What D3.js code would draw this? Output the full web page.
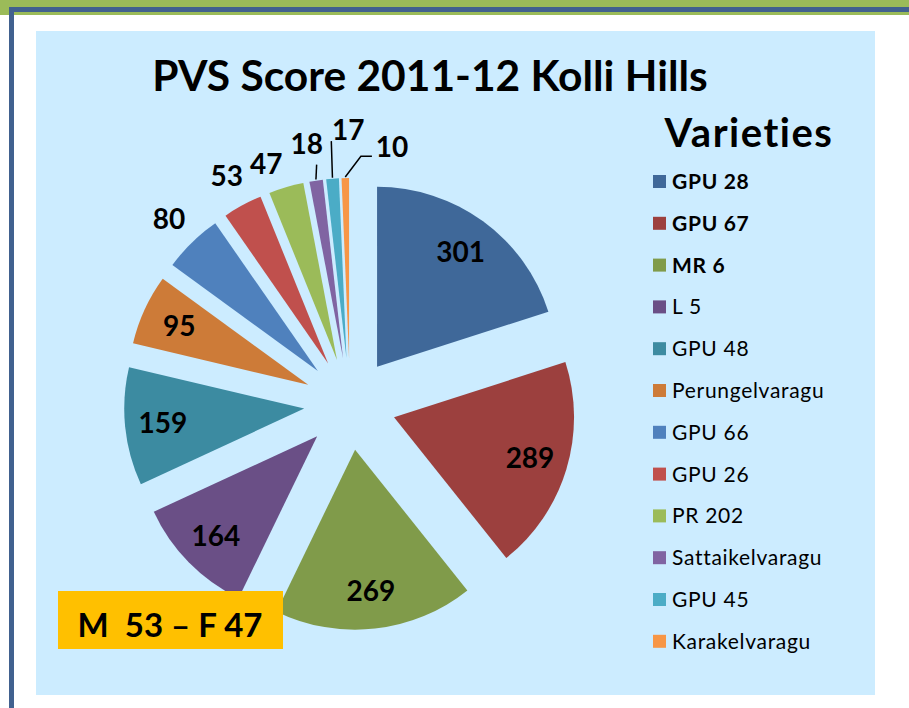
<!DOCTYPE html>
<html>
<head>
<meta charset="utf-8">
<script src="https://cdn.jsdelivr.net/npm/d3@7/dist/d3.min.js"></script>
<style>
  html, body { margin: 0; padding: 0; background: #ffffff; }
  svg { display: block; font-family: Lato, "Open Sans", "DejaVu Sans", sans-serif;
        font-variant-ligatures: none; font-feature-settings: "liga" 0, "clig" 0; }
</style>
</head>
<body>
<svg id="chart" width="909" height="708"></svg>
<script>
// ---- data ----
const categories = ["GPU 28", "GPU 67", "MR 6", "L 5", "GPU 48", "Perungelvaragu",
                    "GPU 66", "GPU 26", "PR 202", "Sattaikelvaragu", "GPU 45", "Karakelvaragu"];
const scores = [301, 289, 269, 164, 159, 95, 80, 53, 47, 18, 17, 10];
const colors = ["#3F6899", "#9C403E", "#809B4A", "#6A4F86", "#3C8BA1", "#CD7B38",
                "#4F81BD", "#C0504D", "#9BBB59", "#8064A2", "#4BACC6", "#F79646"];
const boldLegend = ["GPU 28", "GPU 67", "MR 6"];
const titleText = "PVS Score 2011-12 Kolli Hills";
const legendTitle = "Varieties";
const noteText = "M  53 \u2013 F 47";

// ---- layout ----
const svg = d3.select("#chart");
const W = 909, H = 708;

// frame
svg.append("rect").attr("x", 0).attr("y", 0).attr("width", W).attr("height", H).attr("fill", "#ffffff");
svg.append("rect").attr("x", 0).attr("y", 0).attr("width", W).attr("height", 15).attr("fill", "#9BBB59");
svg.append("rect").attr("x", 9).attr("y", 7).attr("width", W - 9).attr("height", 5).attr("fill", "#41618F");
svg.append("rect").attr("x", 9).attr("y", 7).attr("width", 5).attr("height", H - 7).attr("fill", "#41618F");

// chart area
svg.append("rect").attr("x", 36).attr("y", 31).attr("width", 839).attr("height", 664).attr("fill", "#CCECFF");

// title
svg.append("text").attr("x", 430).attr("y", 91).attr("text-anchor", "middle")
  .attr("font-size", 42.5).attr("font-weight", "bold").attr("fill", "#000").text(titleText);

// pie
const cx = 350, cy = 404, R = 180, explode = 46;
const pie = d3.pie().sort(null).value(d => d)(scores);
const arc = d3.arc().innerRadius(0).outerRadius(R);
const dirOf = a => [Math.sin(a), -Math.cos(a)];

const labelNudge = {
  "PR 202": { dAngle: -3.5, dist: 208 },
  "Sattaikelvaragu": { dAngle: -1, dist: 218 },
  "GPU 45": { dAngle: 4.9, dist: 228 },
  "Karakelvaragu": { dAngle: 12.7, dist: 215 }
};
const leaders = {
  "Sattaikelvaragu": [[10, 21]],
  "GPU 45": [[-17, 11]],
  "Karakelvaragu": [[-31, 9], [-20, 9]]
};

const g = svg.append("g");
pie.forEach((p, i) => {
  const mid = (p.startAngle + p.endAngle) / 2;
  const [dx, dy] = dirOf(mid);
  const ax = cx + explode * dx, ay = cy + explode * dy;
  g.append("path").attr("d", arc(p)).attr("transform", `translate(${ax},${ay})`)
    .attr("fill", colors[i]);

  const name = categories[i];
  const outside = scores[i] < 90;
  let la = mid, dist = outside ? 213 : 142;
  if (labelNudge[name]) { la = mid + labelNudge[name].dAngle * Math.PI / 180; dist = labelNudge[name].dist; }
  const [lx0, ly0] = dirOf(la);
  const lx = ax + dist * lx0, ly = ay + dist * ly0;

  if (leaders[name]) {
    const ox = ax + (R + 1) * dx, oy = ay + (R + 1) * dy;
    const pts = [[ox, oy]].concat(leaders[name].map(o => [lx + o[0], ly + o[1]]));
    g.append("path").attr("d", d3.line()(pts)).attr("fill", "none")
      .attr("stroke", "#000").attr("stroke-width", 1.5);
  }
  g.append("text").attr("x", lx).attr("y", ly).attr("dy", "0.36em")
    .attr("text-anchor", "middle").attr("font-size", 28).attr("font-weight", "bold")
    .attr("fill", "#000").text(scores[i]);
});

// note box
svg.append("rect").attr("x", 58).attr("y", 591).attr("width", 225).attr("height", 58).attr("fill", "#FFC000");
svg.append("text").attr("x", 170).attr("y", 637).attr("text-anchor", "middle")
  .attr("font-size", 33).attr("font-weight", "bold").attr("fill", "#000")
  .attr("xml:space", "preserve").style("white-space", "pre").text(noteText);

// legend
svg.append("text").attr("x", 749).attr("y", 147).attr("text-anchor", "middle")
  .attr("font-size", 40).attr("font-weight", "bold").attr("letter-spacing", 1.5)
  .attr("fill", "#000").text(legendTitle);
const legY = d3.scalePoint().domain(categories).range([181.5, 641.3]);
const leg = svg.append("g").selectAll("g").data(categories).join("g")
  .attr("transform", d => `translate(0,${legY(d)})`);
leg.append("rect").attr("x", 653).attr("y", -6.5).attr("width", 13).attr("height", 13)
  .attr("fill", (d, i) => colors[i]);
leg.append("text").attr("x", 672).attr("y", 0).attr("dy", "0.36em")
  .attr("font-size", 21).attr("letter-spacing", 0.7)
  .attr("font-weight", d => boldLegend.includes(d) ? "bold" : "normal")
  .attr("fill", "#000").text(d => d);
</script>
</body>
</html>
